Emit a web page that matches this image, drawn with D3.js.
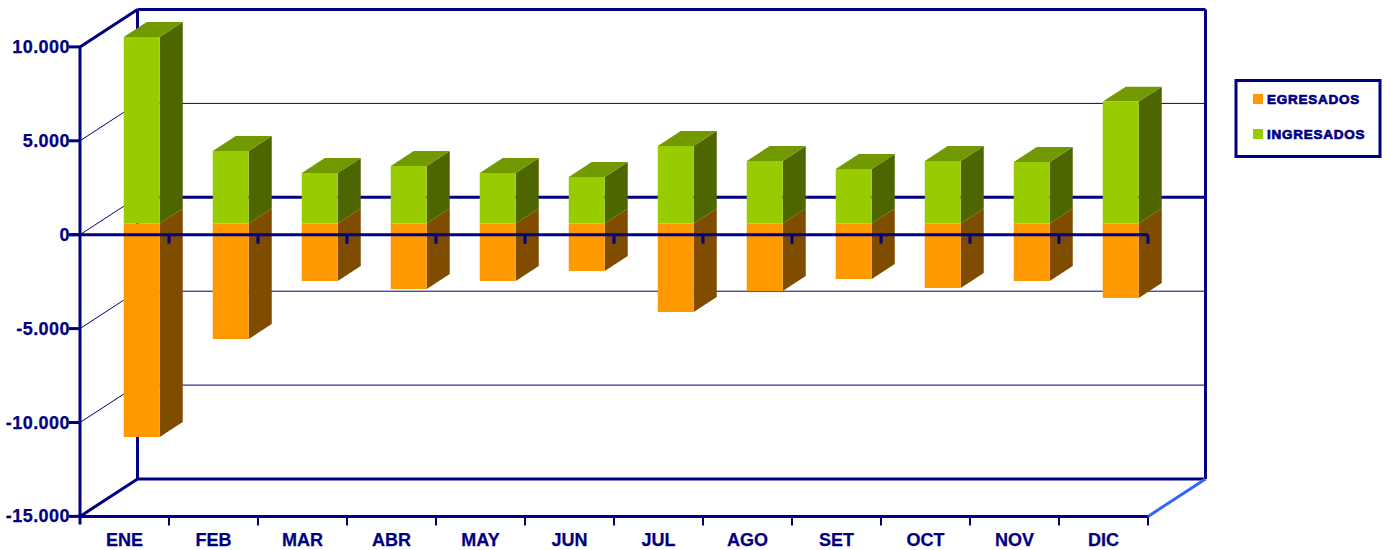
<!DOCTYPE html>
<html><head><meta charset="utf-8">
<script src="https://cdn.jsdelivr.net/npm/d3@7"></script>
<style>html,body{margin:0;padding:0;background:#fff}svg{display:block}</style></head>
<body><svg id="c" width="1390" height="550"></svg>
<script>
const categories=["ENE","FEB","MAR","ABR","MAY","JUN","JUL","AGO","SET","OCT","NOV","DIC"];
const ingresados=[9930,3860,2690,3060,2690,2480,4130,3330,2900,3330,3270,6490];
const egresados=[-11370,-6150,-3060,-3490,-3060,-2530,-4710,-3590,-2960,-3430,-3060,-3970];
const yTicks=[10000,5000,0,-5000,-10000,-15000];
const gridTicks=[5000,-5000,-10000];
const legendItems=["EGRESADOS","INGRESADOS"];
const legendColors=["#ff9900","#99cc00"];

const NAVY="#000080",FONT="'Liberation Sans',Arial,sans-serif";
const svg=d3.select("#c");
const x=d3.scaleBand().domain(categories).range([80,1148]);
const y=d3.scaleLinear().domain([-15000,10000]).range([516.4,46.9]);
const DX=57.5,DY=-37.4;
const fmt=v=>d3.format(",")(v).replace(/,/g,".").replace("\u2212","-");
const P=(px,py,d)=>[px+DX*d,py+DY*d];
const line=(a,b,w,c)=>svg.append("line").attr("x1",a[0]).attr("y1",a[1]).attr("x2",b[0]).attr("y2",b[1])
  .attr("stroke",c||NAVY).attr("stroke-width",w);
const x0=x.range()[0],x1=x.range()[1];

// back wall + floor
line(P(x0,y(10000),1),P(x1,y(10000),1),3);
line(P(x1,y(10000),1),P(x1,y(-15000),1),3);
line(P(x0,y(10000),1),P(x0,y(-15000),1),3);
line(P(x0,y(-15000),1),P(x1,y(-15000),1),3);
gridTicks.forEach(v=>{
  line(P(x0,y(v),1),P(x1,y(v),1),1);
});
line(P(x0,y(0),1),P(x1,y(0),1),3);
[5000,0,-5000,-10000].forEach(v=>line(P(x0,y(v),0),P(x0,y(v),1),1));
line(P(x0,y(10000),0),P(x0,y(10000),1),3);
line(P(x0,y(-15000),0),P(x0,y(-15000),1),3);
line(P(x1,y(-15000),0),P(x1,y(-15000),1),3,"#3366ff");

// bars
const bw=36,d0=0.3,d1=0.7;
const poly=(pts,f)=>svg.append("polygon").attr("points",pts.map(p=>p.join(",")).join(" ")).attr("fill",f);
function bar(cat,v,front,side,top){
  const l=x(cat)+x.bandwidth()/2-bw/2+DX*d0, r=l+bw;
  const yv=y(v)+DY*d0, yz=y(0)+DY*d0, dx=DX*(d1-d0), dy=DY*(d1-d0);
  const a=Math.min(yv,yz), b=Math.max(yv,yz);
  poly([[r,a],[r+dx,a+dy],[r+dx,b+dy],[r,b]],side);
  if(top) poly([[l,a],[l+dx,a+dy],[r+dx,a+dy],[r,a]],top);
  poly([[l,a],[r,a],[r,b],[l,b]],front);
}
categories.forEach((c,i)=>{
  bar(c,egresados[i],legendColors[0],"#804d00",null);
  bar(c,ingresados[i],legendColors[1],"#4d6600","#739900");
});

// front axes
line([x0,y(10000)],[x0,y(-15000)+8],3);
line([x0,y(-15000)],[x1,y(-15000)],3);
line([x0-11,y(0)],[x1,y(0)],3);
categories.forEach((c,i)=>{
  const t=x(c)+x.bandwidth();
  line([t,y(0)],[t,y(0)+9],3);
  line([t,y(-15000)],[t,y(-15000)+9],2);
  svg.append("text").attr("x",x(c)+x.bandwidth()/2).attr("y",546)
   .attr("text-anchor","middle").attr("font-family",FONT).attr("font-weight","bold").attr("font-size",18).attr("stroke",NAVY).attr("stroke-width",0.25).attr("fill",NAVY).text(c);
});
yTicks.forEach(v=>{
  line([x0-11,y(v)],[x0,y(v)],3);
  svg.append("text").attr("x",70).attr("y",y(v)+6).attr("text-anchor","end")
   .attr("font-family",FONT).attr("font-weight","bold").attr("font-size",18).attr("letter-spacing",0.45).attr("stroke",NAVY).attr("stroke-width",0.25).attr("fill",NAVY).text(fmt(v));
});

// legend
svg.append("rect").attr("x",1236).attr("y",80.5).attr("width",144).attr("height",76)
  .attr("fill","#fff").attr("stroke",NAVY).attr("stroke-width",3);
legendItems.forEach((t,i)=>{
  const ly=94+i*35;
  svg.append("rect").attr("x",1253).attr("y",ly).attr("width",10).attr("height",10).attr("fill",legendColors[i]);
  svg.append("text").attr("x",1267).attr("y",ly+10).attr("font-family",FONT).attr("font-weight","bold")
   .attr("font-size",13.5).attr("letter-spacing",0.75).attr("fill",NAVY).attr("stroke",NAVY).attr("stroke-width",0.7).text(t);
});
</script></body></html>
